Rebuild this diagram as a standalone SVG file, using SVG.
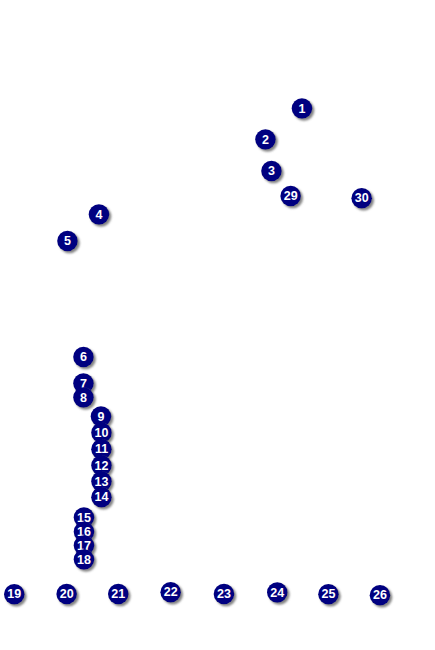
<svg xmlns="http://www.w3.org/2000/svg" width="435" height="650" viewBox="0 0 435 650">
<style>
.n circle{fill:#000080;filter:url(#sh)}
.n text{fill:#fff;font-family:"Liberation Sans",Arial,sans-serif;font-weight:bold;font-size:12.5px;text-anchor:middle;dominant-baseline:central}
</style>
<defs>
<filter id="sh" x="-50%" y="-50%" width="200%" height="200%">
<feDropShadow dx="2" dy="2" stdDeviation="1" flood-color="#777" flood-opacity="0.9"/>
</filter>
</defs>
<rect width="435" height="650" fill="#fff"/>
<g id="connectors"/>
<g id="n1" class="n"><circle cx="302" cy="108.5" r="10.3"/><text x="302" y="108.5">1</text></g>
<g id="n2" class="n"><circle cx="265.5" cy="139.5" r="10.3"/><text x="265.5" y="139.5">2</text></g>
<g id="n3" class="n"><circle cx="271.5" cy="171" r="10.3"/><text x="271.5" y="171">3</text></g>
<g id="n4" class="n"><circle cx="99" cy="214.5" r="10.3"/><text x="99" y="214.5">4</text></g>
<g id="n5" class="n"><circle cx="67.5" cy="241" r="10.3"/><text x="67.5" y="241">5</text></g>
<g id="n6" class="n"><circle cx="83.5" cy="357" r="10.3"/><text x="83.5" y="357">6</text></g>
<g id="n7" class="n"><circle cx="83.5" cy="383.5" r="10.3"/><text x="83.5" y="383.5">7</text></g>
<g id="n8" class="n"><circle cx="83.5" cy="397.5" r="10.3"/><text x="83.5" y="397.5">8</text></g>
<g id="n9" class="n"><circle cx="101" cy="416.5" r="10.3"/><text x="101" y="416.5">9</text></g>
<g id="n10" class="n"><circle cx="101.5" cy="432.7" r="10.3"/><text x="101.5" y="432.7">10</text></g>
<g id="n11" class="n"><circle cx="101.5" cy="449.3" r="10.3"/><text x="101.5" y="449.3">11</text></g>
<g id="n12" class="n"><circle cx="101.5" cy="465.5" r="10.3"/><text x="101.5" y="465.5">12</text></g>
<g id="n13" class="n"><circle cx="101.5" cy="481.5" r="10.3"/><text x="101.5" y="481.5">13</text></g>
<g id="n14" class="n"><circle cx="101.5" cy="497.3" r="10.3"/><text x="101.5" y="497.3">14</text></g>
<g id="n15" class="n"><circle cx="84" cy="517.5" r="10.3"/><text x="84" y="517.5">15</text></g>
<g id="n16" class="n"><circle cx="84" cy="531.7" r="10.3"/><text x="84" y="531.7">16</text></g>
<g id="n17" class="n"><circle cx="84" cy="545.5" r="10.3"/><text x="84" y="545.5">17</text></g>
<g id="n18" class="n"><circle cx="84" cy="559.5" r="10.3"/><text x="84" y="559.5">18</text></g>
<g id="n19" class="n"><circle cx="14.3" cy="594.3" r="10.3"/><text x="14.3" y="594.3">19</text></g>
<g id="n20" class="n"><circle cx="66.7" cy="594" r="10.3"/><text x="66.7" y="594">20</text></g>
<g id="n21" class="n"><circle cx="118.3" cy="594" r="10.3"/><text x="118.3" y="594">21</text></g>
<g id="n22" class="n"><circle cx="170.7" cy="592.3" r="10.3"/><text x="170.7" y="592.3">22</text></g>
<g id="n23" class="n"><circle cx="224" cy="594" r="10.3"/><text x="224" y="594">23</text></g>
<g id="n24" class="n"><circle cx="277.3" cy="592.5" r="10.3"/><text x="277.3" y="592.5">24</text></g>
<g id="n25" class="n"><circle cx="328.5" cy="594.3" r="10.3"/><text x="328.5" y="594.3">25</text></g>
<g id="n26" class="n"><circle cx="380" cy="595.3" r="10.3"/><text x="380" y="595.3">26</text></g>
<g id="n29" class="n"><circle cx="290.7" cy="196" r="10.3"/><text x="290.7" y="196">29</text></g>
<g id="n30" class="n"><circle cx="361.7" cy="198.3" r="10.3"/><text x="361.7" y="198.3">30</text></g>
</svg>
